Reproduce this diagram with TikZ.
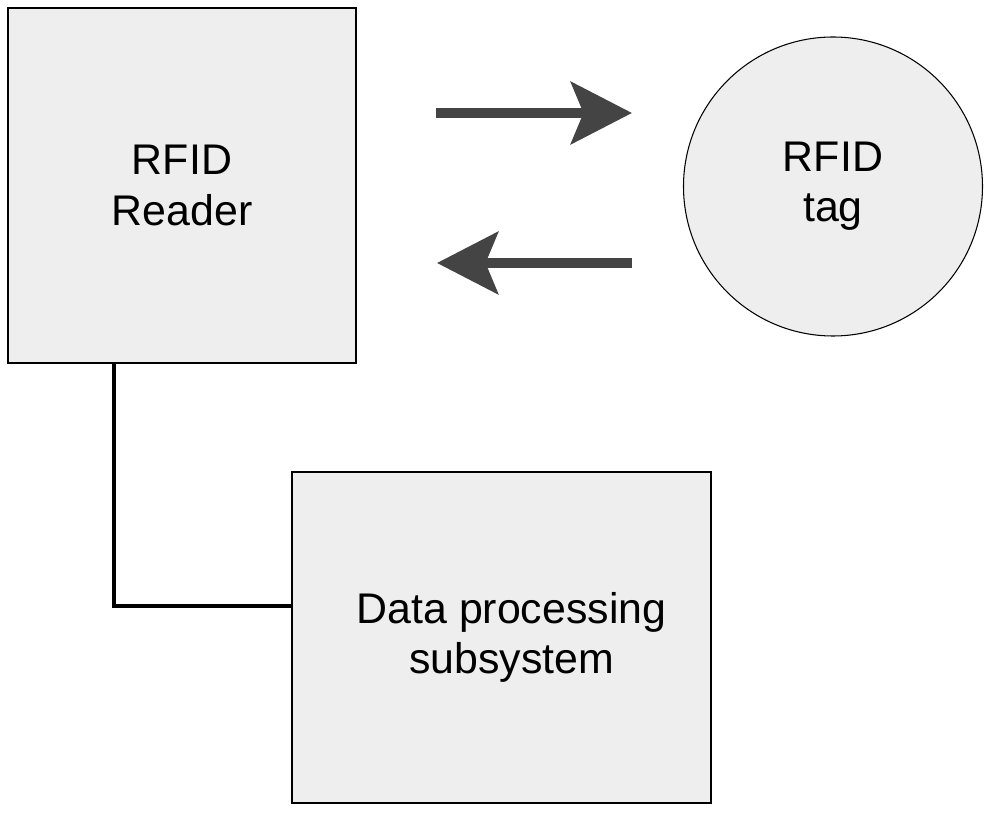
\documentclass[tikz,border=0pt]{standalone}
\usepackage{fontspec}
\setmainfont{Liberation Sans}
\usetikzlibrary{arrows.meta}

\definecolor{boxgray}{HTML}{EEEEEE}
\definecolor{arrowgray}{HTML}{444444}

\tikzset{
  block/.style={draw=black, line width=0.6pt, fill=boxgray, align=center,
    font=\fontsize{24.4}{28.5}\selectfont, inner sep=0pt},
  signal/.style={draw=arrowgray, line width=0.2cm,
    -{Stealth[length=1.22cm, width=1.24cm, inset=0.25cm, fill=arrowgray]}},
  link/.style={draw=black, line width=0.08cm}
}

\begin{document}
\begin{tikzpicture}
    \useasboundingbox (0,0) rectangle (19.82,-16.26);
    \node[block, minimum width=6.96cm, minimum height=7.10cm] (reader) at (3.64,-3.71) {RFID\\Reader};
    \node[block, circle, minimum size=5.98cm] (tag) at (16.66,-3.73) {RFID\\tag};
    \node[block, minimum width=8.38cm, minimum height=6.62cm] (data) at (10.03,-12.75) {\hspace{0.4cm}Data processing\\\hspace{0.4cm}subsystem};
    \coordinate (tx from) at (8.72,-2.26);
    \coordinate (tx to) at (12.64,-2.26);
    \coordinate (rx from) at (12.64,-5.26);
    \coordinate (rx to) at (8.74,-5.26);
    \draw[signal] (tx from) -- (tx to);
    \draw[signal] (rx from) -- (rx to);
    \draw[link] ([xshift=2.14cm]reader.south west) |- ([yshift=0.63cm]data.west);
\end{tikzpicture}
\end{document}
